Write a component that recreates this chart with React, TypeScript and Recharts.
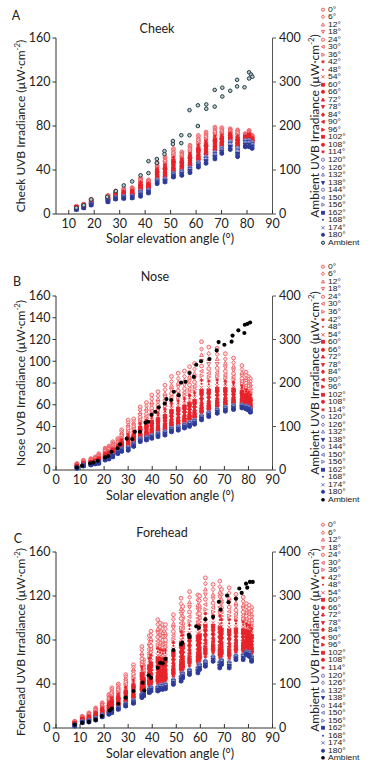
import React from 'react';
import { ScatterChart, Scatter, XAxis, YAxis } from 'recharts';

// sensor orientations (deg); 0..114 red, 120..180 blue
const orientations = [0, 6, 12, 18, 24, 30, 36, 42, 48, 54, 60, 66, 72, 78, 84, 90, 96, 102, 108, 114, 120, 126, 132, 138, 144, 150, 156, 162, 168, 174, 180];

const markerKinds = ['circle', 'diamond', 'triUp', 'triDown', 'circle', 'triLeft', 'triRight', 'star', 'dot', 'cross', 'square', 'circle', 'triUp', 'triDown', 'diamond', 'triLeft', 'triRight', 'square', 'circle', 'star', 'circle', 'diamond', 'triUp', 'triDown', 'circle', 'triLeft', 'triRight', 'square', 'dot', 'cross', 'circle'];
const markerOpen = [1, 1, 1, 1, 1, 1, 1, 0, 0, 1, 0, 0, 0, 0, 0, 0, 0, 0, 0, 0, 1, 1, 1, 0, 1, 1, 1, 0, 0, 1, 0];

// ---- Cheek ----
const cheekElev = [13, 15.9, 18.8, 25.4, 28.4, 31.6, 34.9, 38.2, 41.3, 44.7, 47.8, 51.1, 54.4, 57.6, 60.9, 63.9, 67.4, 70.1, 73.4, 76.3, 79.3, 80.8, 82];
const cheekValues = [
  [7, 7, 6.8, 6.8, 6.6, 6.5, 6.4, 6.3, 6.2, 6, 6, 5.9, 5.8, 5.6, 5.6, 5.5, 5.4, 5.2, 5.2, 5.1, 5, 4.9, 4.8, 4.7, 4.6, 4.5, 4.4, 4.3, 4.2, 4.1, 4],
  [9, 8.9, 8.7, 8.6, 8.5, 8.3, 8.2, 8.1, 7.9, 7.8, 7.7, 7.6, 7.4, 7.3, 7.2, 7.1, 7, 6.9, 6.8, 6.6, 6.5, 6.4, 6.3, 6.2, 6.1, 6, 5.9, 5.8, 5.7, 5.6, 5.5],
  [13.5, 13.3, 13.1, 12.9, 12.7, 12.5, 12.3, 12.1, 11.9, 11.7, 11.5, 11.3, 11.1, 10.9, 10.7, 10.5, 10.3, 10.1, 9.9, 9.7, 9.5, 9.4, 9.2, 9.1, 8.9, 8.8, 8.6, 8.5, 8.3, 8.2, 8],
  [17, 16.8, 16.6, 16.3, 16.1, 15.9, 15.7, 15.4, 15.2, 15, 14.8, 14.5, 14.3, 14.1, 13.9, 13.6, 13.4, 13.2, 13, 12.7, 12.5, 12.4, 12.2, 12.1, 11.9, 11.8, 11.6, 11.5, 11.3, 11.2, 11],
  [21, 20.7, 20.4, 20.1, 19.8, 19.5, 19.2, 18.9, 18.6, 18.3, 18, 17.7, 17.4, 17.1, 16.8, 16.5, 16.2, 15.9, 15.6, 15.3, 15, 14.9, 14.7, 14.6, 14.4, 14.3, 14.1, 14, 13.8, 13.7, 13.5],
  [23, 22.7, 22.3, 22, 21.6, 21.3, 20.9, 20.6, 20.2, 19.9, 19.5, 19.2, 18.8, 18.5, 18.1, 17.8, 17.4, 17.1, 16.7, 16.4, 16, 15.8, 15.6, 15.4, 15.2, 15, 14.8, 14.6, 14.4, 14.2, 14],
  [24, 23.6, 23.3, 22.9, 22.5, 22.1, 21.8, 21.4, 21, 20.6, 20.3, 19.9, 19.5, 19.1, 18.8, 18.4, 18, 17.6, 17.3, 16.9, 16.5, 16.3, 16.1, 15.9, 15.7, 15.5, 15.3, 15.1, 14.9, 14.7, 14.5],
  [33, 32.4, 31.8, 31.2, 30.6, 30, 29.4, 28.8, 28.2, 27.6, 27, 26.4, 25.8, 25.2, 24.6, 24, 23.4, 22.8, 22.2, 21.6, 21, 20.5, 20, 19.5, 19, 18.5, 18, 17.5, 17, 16.5, 16],
  [31, 30.6, 30.1, 29.7, 29.2, 28.8, 28.3, 27.9, 27.4, 27, 26.5, 26.1, 25.6, 25.2, 24.7, 24.3, 23.8, 23.4, 22.9, 22.5, 22, 21.7, 21.4, 21.1, 20.8, 20.5, 20.2, 19.9, 19.6, 19.3, 19],
  [47, 46.2, 45.4, 44.6, 43.8, 43, 42.2, 41.4, 40.6, 39.8, 39, 38.2, 37.4, 36.6, 35.8, 35, 34.2, 33.4, 32.6, 31.8, 31, 30.7, 30.3, 30, 29.6, 29.3, 28.9, 28.6, 28.2, 27.9, 27.5],
  [52, 51, 50, 49, 48, 47, 46, 45, 44, 43, 42, 41, 40, 39, 38, 37, 36, 35, 34, 33, 32, 31.7, 31.4, 31.1, 30.8, 30.5, 30.2, 29.9, 29.6, 29.3, 29],
  [59.5, 58.4, 57.3, 56.1, 55, 53.9, 52.8, 51.6, 50.5, 49.4, 48.3, 47.1, 46, 44.9, 43.8, 42.6, 41.5, 40.4, 39.3, 38.1, 37, 36.7, 36.3, 36, 35.6, 35.3, 34.9, 34.6, 34.2, 33.9, 33.5],
  [56.5, 55.6, 54.8, 53.9, 53, 52.1, 51.3, 50.4, 49.5, 48.6, 47.8, 46.9, 46, 45.1, 44.3, 43.4, 42.5, 41.6, 40.8, 39.9, 39, 38.6, 38.2, 37.8, 37.4, 37, 36.6, 36.2, 35.8, 35.4, 35],
  [62.5, 61.5, 60.5, 59.4, 58.4, 57.4, 56.4, 55.3, 54.3, 53.3, 52.3, 51.2, 50.2, 49.2, 48.2, 47.1, 46.1, 45.1, 44.1, 43, 42, 41.6, 41.1, 40.7, 40.2, 39.8, 39.3, 38.9, 38.4, 38, 37.5],
  [71.5, 70.3, 69.1, 67.8, 66.6, 65.4, 64.2, 62.9, 61.7, 60.5, 59.3, 58, 56.8, 55.6, 54.4, 53.1, 51.9, 50.7, 49.5, 48.2, 47, 46.6, 46.1, 45.7, 45.2, 44.8, 44.3, 43.9, 43.4, 43, 42.5],
  [74.5, 73.4, 72.3, 71.1, 70, 68.9, 67.8, 66.6, 65.5, 64.4, 63.3, 62.1, 61, 59.9, 58.8, 57.6, 56.5, 55.4, 54.3, 53.1, 52, 51.4, 50.8, 50.2, 49.6, 49, 48.4, 47.8, 47.2, 46.6, 46],
  [79, 77.9, 76.7, 75.6, 74.4, 73.3, 72.1, 71, 69.8, 68.7, 67.5, 66.4, 65.2, 64.1, 62.9, 61.8, 60.6, 59.5, 58.3, 57.2, 56, 55.4, 54.8, 54.2, 53.6, 53, 52.4, 51.8, 51.2, 50.6, 50],
  [78.5, 77.6, 76.7, 75.7, 74.8, 73.9, 73, 72, 71.1, 70.2, 69.3, 68.3, 67.4, 66.5, 65.6, 64.6, 63.7, 62.8, 61.9, 60.9, 60, 59.5, 59, 58.5, 58, 57.5, 57, 56.5, 56, 55.5, 55],
  [77.5, 76.9, 76.4, 75.8, 75.2, 74.6, 74.1, 73.5, 72.9, 72.3, 71.8, 71.2, 70.6, 70, 69.5, 68.9, 68.3, 67.7, 67.2, 66.6, 66, 65.3, 64.5, 63.8, 63, 62.3, 61.5, 60.8, 60, 59.3, 58.5],
  [76.5, 75.7, 74.9, 74.1, 73.2, 72.4, 71.6, 70.8, 69.9, 69.1, 68.3, 67.4, 66.6, 65.8, 65, 64.1, 63.3, 62.5, 61.7, 60.8, 60, 59.2, 58.4, 57.6, 56.8, 56, 55.2, 54.4, 53.6, 52.8, 52],
  [73, 72.7, 72.4, 72.1, 71.8, 71.5, 71.2, 70.9, 70.6, 70.3, 70, 69.7, 69.4, 69.1, 68.8, 68.5, 68.2, 67.9, 67.6, 67.3, 67, 66.4, 65.8, 65.2, 64.6, 64, 63.4, 62.8, 62.2, 61.6, 61],
  [76, 75.6, 75.1, 74.7, 74.2, 73.8, 73.3, 72.9, 72.4, 72, 71.5, 71.1, 70.6, 70.2, 69.7, 69.3, 68.8, 68.4, 67.9, 67.5, 67, 66.4, 65.8, 65.2, 64.6, 64, 63.4, 62.8, 62.2, 61.6, 61],
  [71.5, 71.2, 70.9, 70.5, 70.2, 69.9, 69.6, 69.2, 68.9, 68.6, 68.3, 67.9, 67.6, 67.3, 67, 66.6, 66.3, 66, 65.7, 65.3, 65, 64.5, 63.9, 63.4, 62.8, 62.3, 61.7, 61.2, 60.6, 60.1, 59.5],
];
const cheekAmbient = [[13, 14], [15.9, 20], [18.8, 33], [25.1, 39], [28.5, 52], [31.6, 65], [34.9, 74], [38.2, 88], [41.3, 93], [41.3, 120], [44.6, 125], [44.6, 116], [47.6, 143], [47.6, 136], [50.9, 166], [50.9, 159], [54.2, 161], [54.2, 179], [57.4, 179], [57.4, 236], [60.7, 200], [60.7, 247], [64, 249], [64, 239], [67.3, 244], [67.3, 282], [70.3, 267], [70.3, 287], [73.4, 280], [76.1, 305], [76.1, 290], [79, 288], [80.8, 308], [80.8, 322], [81.6, 317], [82.1, 312]];

// ---- Nose ----
const noseElev = [8.7, 11.4, 14.5, 16.3, 17.8, 20.4, 22, 23.6, 25.7, 27.3, 30, 32.3, 35, 37.6, 39.8, 42.4, 45.3, 48, 50.8, 53.4, 55.5, 57.6, 60.5, 63.5, 67, 70.4, 73.8, 77.3, 79, 80, 80.8];
const noseValues = [
  [6, 5.7, 5.4, 5.1, 4.8, 4.6, 4.4, 4.2, 4, 3.8, 3.7, 3.5, 3.4, 3.2, 3.1, 3, 2.9, 2.8, 2.7, 2.6, 2.5, 2.4, 2.3, 2.2, 2.1, 2, 1.9, 1.8, 1.7, 1.6, 1.5],
  [9, 8.6, 8.2, 7.8, 7.5, 7.2, 6.9, 6.7, 6.4, 6.2, 6, 5.8, 5.6, 5.4, 5.3, 5.1, 5, 4.9, 4.7, 4.6, 4.5, 4.4, 4.3, 4.2, 4.1, 4, 3.9, 3.8, 3.7, 3.6, 3.5],
  [10.5, 10, 9.6, 9.2, 8.9, 8.5, 8.2, 7.9, 7.7, 7.4, 7.2, 7, 6.8, 6.6, 6.4, 6.2, 6.1, 5.9, 5.8, 5.6, 5.5, 5.4, 5.3, 5.2, 5.1, 5, 4.9, 4.8, 4.7, 4.6, 4.5],
  [12, 11.5, 11, 10.6, 10.2, 9.8, 9.5, 9.1, 8.9, 8.6, 8.3, 8.1, 7.9, 7.7, 7.4, 7.3, 7.1, 6.9, 6.8, 6.6, 6.5, 6.4, 6.3, 6.2, 6.1, 6, 5.9, 5.8, 5.7, 5.6, 5.5],
  [15, 14.3, 13.7, 13.1, 12.5, 12, 11.6, 11.1, 10.7, 10.4, 10, 9.7, 9.4, 9.1, 8.8, 8.6, 8.3, 8.1, 7.9, 7.7, 7.5, 7.4, 7.2, 7.1, 6.9, 6.8, 6.6, 6.5, 6.3, 6.2, 6],
  [20, 19.1, 18.4, 17.7, 17, 16.4, 15.9, 15.3, 14.9, 14.4, 14, 13.6, 13.3, 12.9, 12.5, 12.3, 12, 11.7, 11.5, 11.2, 11, 10.8, 10.6, 10.4, 10.2, 10, 9.8, 9.6, 9.4, 9.2, 9],
  [22, 21, 20.2, 19.4, 18.7, 18, 17.4, 16.8, 16.3, 15.8, 15.3, 14.9, 14.5, 14.1, 13.7, 13.4, 13.1, 12.8, 12.5, 12.2, 12, 11.8, 11.6, 11.4, 11.2, 11, 10.8, 10.6, 10.4, 10.2, 10],
  [26, 24.8, 23.8, 22.9, 22, 21.2, 20.5, 19.8, 19.2, 18.6, 18, 17.5, 17, 16.5, 16, 15.7, 15.3, 15, 14.6, 14.2, 14, 13.8, 13.6, 13.4, 13.2, 13, 12.8, 12.6, 12.4, 12.2, 12],
  [29, 27.8, 26.8, 25.9, 25, 24.2, 23.5, 22.8, 22.2, 21.6, 21, 20.5, 20, 19.5, 19, 18.7, 18.3, 18, 17.6, 17.2, 17, 16.8, 16.6, 16.4, 16.2, 16, 15.8, 15.6, 15.4, 15.2, 15],
  [37, 35.3, 33.9, 32.5, 31.2, 30, 29, 27.9, 27, 26.2, 25.3, 24.6, 23.9, 23.2, 22.5, 22, 21.4, 20.9, 20.4, 19.9, 19.5, 19.3, 19, 18.8, 18.5, 18.3, 18, 17.8, 17.5, 17.3, 17],
  [46, 43.5, 41.5, 39.5, 37.8, 36, 34.5, 33, 31.8, 30.5, 29.3, 28.3, 27.3, 26.3, 25.3, 24.5, 23.8, 23, 22.3, 21.5, 21, 20.7, 20.4, 20.1, 19.8, 19.5, 19.2, 18.9, 18.6, 18.3, 18],
  [47, 44.8, 43, 41.2, 39.6, 38, 36.7, 35.3, 34.2, 33.1, 31.9, 31, 30.1, 29.2, 28.3, 27.7, 27, 26.3, 25.6, 25, 24.5, 24.2, 23.9, 23.6, 23.3, 23, 22.7, 22.4, 22.1, 21.8, 21.5],
  [58, 55.1, 52.8, 50.5, 48.4, 46.4, 44.7, 42.9, 41.5, 40, 38.6, 37.4, 36.3, 35.1, 33.9, 33.1, 32.2, 31.3, 30.5, 29.6, 29, 28.7, 28.4, 28.1, 27.8, 27.5, 27.2, 26.9, 26.6, 26.3, 26],
  [62, 58.9, 56.3, 53.8, 51.6, 49.4, 47.5, 45.6, 44, 42.5, 40.9, 39.6, 38.4, 37.1, 35.9, 34.9, 34, 33, 32.1, 31.1, 30.5, 30.2, 29.9, 29.6, 29.3, 29, 28.7, 28.4, 28.1, 27.8, 27.5],
  [69, 65.3, 62.3, 59.4, 56.8, 54.2, 52, 49.8, 47.9, 46.1, 44.2, 42.7, 41.3, 39.8, 38.3, 37.2, 36.1, 35, 33.9, 32.7, 32, 31.7, 31.4, 31.1, 30.8, 30.5, 30.2, 29.9, 29.6, 29.3, 29],
  [72, 68.2, 65.2, 62.1, 59.5, 56.8, 54.5, 52.2, 50.3, 48.4, 46.5, 45, 43.5, 42, 40.5, 39.3, 38.2, 37, 35.9, 34.8, 34, 33.7, 33.3, 33, 32.6, 32.3, 31.9, 31.6, 31.2, 30.9, 30.5],
  [78, 73.8, 70.4, 67, 64, 61, 58.5, 55.9, 53.8, 51.7, 49.5, 47.8, 46.1, 44.4, 42.7, 41.5, 40.2, 38.9, 37.6, 36.4, 35.5, 35.2, 34.8, 34.5, 34.1, 33.8, 33.4, 33.1, 32.7, 32.4, 32],
  [86, 81.3, 77.5, 73.7, 70.3, 67, 64.2, 61.3, 58.9, 56.6, 54.2, 52.3, 50.4, 48.5, 46.6, 45.2, 43.7, 42.3, 40.9, 39.5, 38.5, 38.2, 37.8, 37.5, 37.1, 36.8, 36.4, 36.1, 35.7, 35.4, 35],
  [89, 84.1, 80.2, 76.3, 72.8, 69.4, 66.5, 63.5, 61.1, 58.6, 56.2, 54.2, 52.3, 50.3, 48.3, 46.9, 45.4, 43.9, 42.5, 41, 40, 39.7, 39.3, 39, 38.6, 38.3, 37.9, 37.6, 37.2, 36.9, 36.5],
  [91, 86.1, 82.2, 78.3, 74.8, 71.4, 68.5, 65.5, 63.1, 60.6, 58.2, 56.2, 54.3, 52.3, 50.3, 48.9, 47.4, 45.9, 44.5, 43, 42, 41.7, 41.3, 41, 40.6, 40.3, 39.9, 39.6, 39.2, 38.9, 38.5],
  [95, 89.9, 85.8, 81.7, 78.2, 74.6, 71.5, 68.5, 65.9, 63.4, 60.8, 58.8, 56.8, 54.7, 52.7, 51.1, 49.6, 48.1, 46.6, 45, 44, 43.6, 43.2, 42.8, 42.4, 42, 41.6, 41.2, 40.8, 40.4, 40],
  [98, 92.8, 88.6, 84.5, 80.8, 77.2, 74.1, 71, 68.4, 65.8, 63.2, 61.1, 59, 56.9, 54.8, 53.3, 51.7, 50.2, 48.6, 47, 46, 45.6, 45.2, 44.8, 44.4, 44, 43.6, 43.2, 42.8, 42.4, 42],
  [118, 111.2, 105.8, 100.3, 95.6, 90.8, 86.7, 82.6, 79.2, 75.8, 72.4, 69.7, 67, 64.3, 61.6, 59.5, 57.5, 55.4, 53.4, 51.4, 50, 49.6, 49.2, 48.8, 48.4, 48, 47.6, 47.2, 46.8, 46.4, 46],
  [113, 107, 102.2, 97.4, 93.2, 89, 85.4, 81.8, 78.8, 75.8, 72.8, 70.4, 68, 65.6, 63.2, 61.4, 59.6, 57.8, 56, 54.2, 53, 52.6, 52.2, 51.8, 51.4, 51, 50.6, 50.2, 49.8, 49.4, 49],
  [112, 106.4, 101.9, 97.4, 93.5, 89.6, 86.2, 82.9, 80.1, 77.3, 74.5, 72.2, 70, 67.8, 65.5, 63.8, 62.2, 60.5, 58.8, 57.1, 56, 55.6, 55.2, 54.8, 54.4, 54, 53.6, 53.2, 52.8, 52.4, 52],
  [107, 102.1, 98.2, 94.3, 90.8, 87.4, 84.5, 81.5, 79.1, 76.6, 74.2, 72.2, 70.3, 68.3, 66.3, 64.9, 63.4, 61.9, 60.5, 59, 58, 57.6, 57.2, 56.8, 56.4, 56, 55.6, 55.2, 54.8, 54.4, 54],
  [103, 98.7, 95.2, 91.7, 88.6, 85.6, 83, 80.4, 78.2, 76, 73.9, 72.1, 70.4, 68.6, 66.9, 65.6, 64.3, 63, 61.7, 60.4, 59.5, 59.1, 58.7, 58.3, 57.9, 57.5, 57.1, 56.7, 56.3, 55.9, 55.5],
  [96, 92.4, 89.5, 86.6, 84.1, 81.6, 79.4, 77.3, 75.5, 73.7, 71.9, 70.4, 69, 67.6, 66.1, 65, 64, 62.9, 61.8, 60.7, 60, 59.7, 59.4, 59.1, 58.8, 58.5, 58.2, 57.9, 57.6, 57.3, 57],
  [90, 86.9, 84.4, 81.9, 79.8, 77.6, 75.7, 73.9, 72.3, 70.8, 69.2, 68, 66.8, 65.5, 64.3, 63.3, 62.4, 61.5, 60.6, 59.6, 59, 58.7, 58.4, 58.1, 57.8, 57.5, 57.2, 56.9, 56.6, 56.3, 56],
  [86, 83.2, 81, 78.7, 76.8, 74.8, 73.1, 71.4, 70, 68.6, 67.2, 66.1, 65, 63.9, 62.8, 61.9, 61.1, 60.2, 59.4, 58.6, 58, 57.7, 57.4, 57.1, 56.8, 56.5, 56.2, 55.9, 55.6, 55.3, 55],
  [84, 81.2, 79, 76.7, 74.8, 72.8, 71.1, 69.4, 68, 66.6, 65.2, 64.1, 63, 61.9, 60.8, 59.9, 59.1, 58.2, 57.4, 56.6, 56, 55.7, 55.4, 55.1, 54.8, 54.5, 54.2, 53.9, 53.6, 53.3, 53],
];
const noseAmbient = [[8.7, 6], [10.8, 10], [14.2, 15.5], [15.6, 17], [17.4, 21], [20.4, 29], [21.8, 32], [23.1, 42], [25.6, 50], [26.6, 59], [29.4, 72], [31.7, 71], [32.8, 88], [34.9, 88], [37.2, 109], [38.3, 111], [39.7, 127], [41.3, 134], [42.7, 144], [45.2, 153], [45.9, 163], [47.9, 161], [49, 180], [51, 172], [52, 201], [53.9, 203], [55.5, 223], [57.3, 214], [58.3, 242], [60.3, 250], [63.8, 255], [66.8, 275], [67.6, 294], [70, 288], [73, 295], [73.4, 309], [75.8, 321], [78.3, 315], [78.5, 334], [79.6, 336], [80.7, 339]];

// ---- Forehead ----
const foreheadElev = [7.8, 10.9, 13.7, 16.5, 19.2, 22, 23.2, 25.9, 29, 32.2, 35.7, 36.4, 38.8, 39.5, 42.3, 43.3, 44.4, 45.5, 48.8, 52, 52.7, 55.5, 59, 59.7, 62.1, 65.3, 68.1, 68.8, 72, 74.8, 77.8, 79.2, 80.3, 81.3];
const foreheadValues = [
  [6.2, 6, 5.8, 5.6, 5.4, 5.2, 5, 4.8, 4.7, 4.5, 4.3, 4.2, 4.1, 3.9, 3.8, 3.7, 3.5, 3.4, 3.3, 3.2, 3, 2.9, 2.7, 2.6, 2.4, 2.3, 2.2, 2, 1.9, 1.7, 1.6],
  [10.7, 10.4, 10, 9.8, 9.5, 9.2, 8.9, 8.7, 8.4, 8.2, 8, 7.7, 7.6, 7.4, 7.2, 7, 6.8, 6.6, 6.4, 6.2, 6, 5.9, 5.7, 5.6, 5.5, 5.4, 5.2, 5.1, 5, 4.8, 4.7],
  [13.8, 13.3, 12.8, 12.4, 12, 11.6, 11.2, 10.9, 10.5, 10.2, 9.9, 9.5, 9.2, 9, 8.7, 8.4, 8.2, 7.9, 7.6, 7.3, 7, 6.8, 6.7, 6.5, 6.3, 6.2, 6, 5.8, 5.6, 5.5, 5.3],
  [18.3, 17.6, 17, 16.4, 15.9, 15.3, 14.8, 14.3, 13.8, 13.4, 12.9, 12.4, 12.1, 11.7, 11.3, 11, 10.6, 10.2, 9.8, 9.5, 9, 8.8, 8.6, 8.4, 8.2, 8, 7.8, 7.6, 7.4, 7.2, 7],
  [23, 22.2, 21.5, 20.8, 20.1, 19.5, 18.8, 18.3, 17.7, 17.2, 16.6, 16.1, 15.6, 15.2, 14.8, 14.3, 13.9, 13.4, 13, 12.6, 12, 11.8, 11.6, 11.4, 11.2, 11, 10.8, 10.6, 10.4, 10.2, 10],
  [30.5, 29.4, 28.3, 27.3, 26.3, 25.4, 24.4, 23.6, 22.8, 22, 21.2, 20.4, 19.8, 19.1, 18.5, 17.9, 17.2, 16.6, 15.9, 15.3, 14.5, 14.3, 14.1, 13.8, 13.6, 13.4, 13.2, 13, 12.7, 12.5, 12.3],
  [36.5, 35.1, 33.6, 32.4, 31.2, 29.9, 28.7, 27.7, 26.7, 25.6, 24.6, 23.6, 22.8, 21.9, 21.1, 20.3, 19.5, 18.7, 17.8, 17, 16, 15.8, 15.6, 15.3, 15.1, 14.9, 14.7, 14.5, 14.2, 14, 13.8],
  [40, 38.5, 37.1, 35.8, 34.5, 33.3, 32, 31, 29.9, 28.9, 27.8, 26.8, 25.9, 25.1, 24.3, 23.4, 22.6, 21.7, 20.9, 20.1, 19, 18.8, 18.6, 18.3, 18.1, 17.9, 17.7, 17.5, 17.2, 17, 16.8],
  [48.5, 46.6, 44.8, 43.2, 41.6, 40, 38.4, 37.1, 35.8, 34.5, 33.1, 31.8, 30.7, 29.7, 28.6, 27.6, 26.5, 25.4, 24.4, 23.3, 22, 21.8, 21.6, 21.3, 21.1, 20.9, 20.7, 20.5, 20.2, 20, 19.8],
  [57.5, 55.2, 53, 51, 49.1, 47.1, 45.2, 43.5, 41.9, 40.3, 38.7, 37, 35.7, 34.4, 33.1, 31.8, 30.5, 29.2, 27.9, 26.6, 25, 24.7, 24.5, 24.2, 23.9, 23.7, 23.4, 23.1, 22.8, 22.6, 22.3],
  [74, 71, 68, 65.4, 62.8, 60.2, 57.7, 55.5, 53.4, 51.2, 49.1, 46.9, 45.2, 43.5, 41.8, 40, 38.3, 36.6, 34.9, 33.2, 31, 30.7, 30.3, 30, 29.6, 29.3, 28.9, 28.6, 28.2, 27.9, 27.5],
  [62, 59.9, 57.8, 56, 54.2, 52.4, 50.6, 49.1, 47.6, 46.1, 44.6, 43.1, 41.9, 40.7, 39.5, 38.3, 37.1, 35.9, 34.7, 33.5, 32, 31.7, 31.4, 31.1, 30.8, 30.5, 30.2, 29.9, 29.6, 29.3, 29],
  [84, 80.6, 77.2, 74.3, 71.4, 68.5, 65.6, 63.1, 60.7, 58.3, 55.9, 53.4, 51.5, 49.6, 47.6, 45.7, 43.7, 41.8, 39.9, 37.9, 35.5, 35.2, 34.8, 34.5, 34.1, 33.8, 33.4, 33.1, 32.7, 32.4, 32],
  [88, 84.4, 80.9, 77.8, 74.7, 71.7, 68.6, 66.1, 63.5, 61, 58.4, 55.9, 53.8, 51.8, 49.8, 47.7, 45.7, 43.6, 41.6, 39.6, 37, 36.7, 36.3, 36, 35.6, 35.3, 34.9, 34.6, 34.2, 33.9, 33.5],
  [98.5, 94.2, 90, 86.3, 82.6, 79, 75.3, 72.3, 69.2, 66.2, 63.1, 60.1, 57.6, 55.2, 52.8, 50.3, 47.9, 45.4, 43, 40.6, 37.5, 37.1, 36.7, 36.3, 35.9, 35.5, 35.1, 34.7, 34.3, 33.9, 33.5],
  [95.5, 91.5, 87.6, 84.2, 80.8, 77.4, 74, 71.2, 68.4, 65.6, 62.7, 59.9, 57.6, 55.4, 53.1, 50.9, 48.6, 46.3, 44.1, 41.8, 39, 38.6, 38.2, 37.8, 37.4, 37, 36.6, 36.2, 35.8, 35.4, 35],
  [94, 90.2, 86.3, 83, 79.7, 76.4, 73.1, 70.4, 67.6, 64.9, 62.1, 59.4, 57.2, 55, 52.8, 50.6, 48.4, 46.2, 44, 41.8, 39, 38.6, 38.2, 37.8, 37.4, 37, 36.6, 36.2, 35.8, 35.4, 35],
  [94, 90.2, 86.4, 83.2, 80, 76.7, 73.5, 70.8, 68.1, 65.4, 62.7, 60, 57.8, 55.7, 53.5, 51.3, 49.2, 47, 44.9, 42.7, 40, 39.6, 39.1, 38.7, 38.2, 37.8, 37.3, 36.9, 36.4, 36, 35.5],
  [103, 98.9, 94.7, 91.2, 87.7, 84.1, 80.6, 77.6, 74.7, 71.7, 68.8, 65.8, 63.5, 61.1, 58.8, 56.4, 54, 51.7, 49.3, 47, 44, 43.6, 43.1, 42.7, 42.2, 41.8, 41.3, 40.9, 40.4, 40, 39.5],
  [118, 113, 108.1, 103.8, 99.5, 95.3, 91, 87.5, 83.9, 80.4, 76.8, 73.3, 70.4, 67.6, 64.8, 61.9, 59.1, 56.2, 53.4, 50.6, 47, 46.6, 46.1, 45.7, 45.2, 44.8, 44.3, 43.9, 43.4, 43, 42.5],
  [110.5, 106.3, 102, 98.4, 94.8, 91.1, 87.5, 84.5, 81.5, 78.4, 75.4, 72.4, 70, 67.5, 65.1, 62.7, 60.3, 57.9, 55.4, 53, 50, 49.6, 49.1, 48.7, 48.2, 47.8, 47.3, 46.9, 46.4, 46, 45.5],
  [124, 119, 114.1, 109.8, 105.5, 101.3, 97, 93.5, 89.9, 86.4, 82.8, 79.3, 76.4, 73.6, 70.8, 67.9, 65.1, 62.2, 59.4, 56.6, 53, 52.6, 52.1, 51.7, 51.2, 50.8, 50.3, 49.9, 49.4, 49, 48.5],
  [121, 116.4, 111.8, 107.8, 103.8, 99.9, 95.9, 92.6, 89.3, 86, 82.7, 79.4, 76.8, 74.1, 71.5, 68.9, 66.2, 63.6, 60.9, 58.3, 55, 54.5, 54, 53.5, 53, 52.5, 52, 51.5, 51, 50.5, 50],
  [120, 115.7, 111.3, 107.6, 103.9, 100.2, 96.4, 93.3, 90.2, 87.1, 84, 81, 78.5, 76, 73.5, 71, 68.5, 66.1, 63.6, 61.1, 58, 57.5, 57, 56.5, 56, 55.5, 55, 54.5, 54, 53.5, 53],
  [136.5, 131.2, 125.9, 121.4, 116.9, 112.3, 107.8, 104, 100.3, 96.5, 92.7, 88.9, 85.9, 82.9, 79.9, 76.9, 73.8, 70.8, 67.8, 64.8, 61, 60.5, 60, 59.5, 59, 58.5, 58, 57.5, 57, 56.5, 56],
  [130.5, 125.9, 121.3, 117.4, 113.5, 109.5, 105.6, 102.3, 99.1, 95.8, 92.5, 89.2, 86.6, 84, 81.4, 78.8, 76.1, 73.5, 70.9, 68.3, 65, 64.6, 64.1, 63.7, 63.2, 62.8, 62.3, 61.9, 61.4, 61, 60.5],
  [133.5, 128.4, 123.2, 118.8, 114.4, 110, 105.6, 101.9, 98.2, 94.5, 90.9, 87.2, 84.3, 81.3, 78.4, 75.4, 72.5, 69.6, 66.6, 63.7, 60, 59.5, 58.9, 58.4, 57.8, 57.3, 56.7, 56.2, 55.6, 55.1, 54.5],
  [126, 121.5, 117, 113.2, 109.4, 105.5, 101.7, 98.5, 95.3, 92.1, 88.9, 85.7, 83.1, 80.6, 78, 75.4, 72.9, 70.3, 67.8, 65.2, 62, 61.6, 61.1, 60.7, 60.2, 59.8, 59.3, 58.9, 58.4, 58, 57.5],
  [127.5, 122.8, 118.1, 114, 110, 105.9, 101.9, 98.5, 95.1, 91.7, 88.4, 85, 82.3, 79.6, 76.9, 74.2, 71.5, 68.8, 66.1, 63.4, 60, 59.5, 58.9, 58.4, 57.8, 57.3, 56.7, 56.2, 55.6, 55.1, 54.5],
  [121.5, 117.6, 113.7, 110.4, 107.1, 103.7, 100.4, 97.6, 94.9, 92.1, 89.3, 86.5, 84.3, 82.1, 79.9, 77.7, 75.4, 73.2, 71, 68.8, 66, 65.6, 65.2, 64.8, 64.4, 64, 63.6, 63.2, 62.8, 62.4, 62],
  [119, 115.3, 111.7, 108.5, 105.4, 102.2, 99.1, 96.4, 93.8, 91.2, 88.6, 85.9, 83.8, 81.7, 79.6, 77.5, 75.4, 73.3, 71.2, 69.1, 66.5, 66.1, 65.6, 65.2, 64.7, 64.3, 63.8, 63.4, 62.9, 62.5, 62],
  [113, 110, 106.9, 104.3, 101.7, 99.1, 96.5, 94.3, 92.1, 89.9, 87.8, 85.6, 83.9, 82.1, 80.4, 78.6, 76.9, 75.2, 73.4, 71.7, 69.5, 69.2, 68.9, 68.6, 68.3, 68, 67.7, 67.4, 67.1, 66.8, 66.5],
  [111.5, 108.5, 105.6, 103, 100.5, 97.9, 95.4, 93.2, 91.1, 89, 86.9, 84.7, 83, 81.3, 79.6, 77.9, 76.2, 74.5, 72.8, 71.1, 69, 68.6, 68.2, 67.8, 67.4, 67, 66.6, 66.2, 65.8, 65.4, 65],
  [109.5, 106.4, 103.3, 100.6, 97.9, 95.3, 92.6, 90.4, 88.1, 85.9, 83.7, 81.5, 79.7, 77.9, 76.1, 74.3, 72.6, 70.8, 69, 67.2, 65, 64.6, 64.1, 63.7, 63.2, 62.8, 62.3, 61.9, 61.4, 61, 60.5],
];
const foreheadAmbient = [[7.8, 8], [10.9, 12], [13.7, 14], [16.5, 19], [19, 27], [22.3, 40], [23.2, 44], [25.9, 55], [29, 69], [32.2, 84], [36, 103], [36.7, 85], [38.5, 120], [39.5, 114], [42.3, 137], [43.3, 148], [44.4, 147], [45.5, 157], [48.8, 177], [52, 190], [52.5, 194], [55.2, 212], [55.5, 207], [58.3, 231], [59.4, 228], [62.1, 247], [65.3, 252], [67.7, 287], [68.4, 269], [71.1, 301], [71.7, 286], [74.8, 294], [76.2, 317], [77.2, 307], [79, 328], [79.5, 319], [80.6, 332], [81.8, 332]];

const FONT = 'Lato, "Open Sans", sans-serif';
const RED = '#e8232b';
const RED_LIGHT = '#ee5c62';
const BLUE = '#2d3a97';
const BLUE_LIGHT = '#6676c0';

function Marker({ cx, cy, kind, open, color, s = 1.9 }: any) {
  if (cx == null || cy == null) return null;
  const fill = open ? '#fbe3e4' : color;
  const sw = 0.9;
  switch (kind) {
    case 'square':
      return <rect x={cx - s * 0.9} y={cy - s * 0.9} width={s * 1.8} height={s * 1.8} fill={fill} stroke={color} strokeWidth={sw} />;
    case 'diamond':
      return <polygon points={`${cx},${cy - s * 1.2} ${cx + s},${cy} ${cx},${cy + s * 1.2} ${cx - s},${cy}`} fill={fill} stroke={color} strokeWidth={sw} />;
    case 'triUp':
      return <polygon points={`${cx},${cy - s * 1.1} ${cx + s},${cy + s * 0.8} ${cx - s},${cy + s * 0.8}`} fill={fill} stroke={color} strokeWidth={sw} />;
    case 'triDown':
      return <polygon points={`${cx},${cy + s * 1.1} ${cx + s},${cy - s * 0.8} ${cx - s},${cy - s * 0.8}`} fill={fill} stroke={color} strokeWidth={sw} />;
    case 'triLeft':
      return <polygon points={`${cx - s * 1.1},${cy} ${cx + s * 0.8},${cy - s} ${cx + s * 0.8},${cy + s}`} fill={fill} stroke={color} strokeWidth={sw} />;
    case 'triRight':
      return <polygon points={`${cx + s * 1.1},${cy} ${cx - s * 0.8},${cy - s} ${cx - s * 0.8},${cy + s}`} fill={fill} stroke={color} strokeWidth={sw} />;
    case 'dot':
      return <circle cx={cx} cy={cy} r={s * 0.6} fill={color} />;
    case 'cross':
      return <path d={`M${cx - s},${cy - s}L${cx + s},${cy + s}M${cx + s},${cy - s}L${cx - s},${cy + s}`} stroke={color} strokeWidth={1} />;
    case 'star':
      return <path d={`M${cx - s},${cy}L${cx + s},${cy}M${cx},${cy - s}L${cx},${cy + s}M${cx - s * 0.7},${cy - s * 0.7}L${cx + s * 0.7},${cy + s * 0.7}M${cx + s * 0.7},${cy - s * 0.7}L${cx - s * 0.7},${cy + s * 0.7}`} stroke={color} strokeWidth={1} />;
    default:
      return <circle cx={cx} cy={cy} r={s} fill={fill} stroke={color} strokeWidth={sw} />;
  }
}

function seriesColor(i: number) {
  const blue = orientations[i] >= 120;
  if (markerOpen[i]) return blue ? BLUE_LIGHT : RED_LIGHT;
  return blue ? BLUE : RED;
}

function AmbientMarker({ cx, cy, kind, s = 1.8 }: any) {
  if (cx == null || cy == null) return null;
  if (kind === 'open') return <circle cx={cx} cy={cy} r={s} fill="#b9cccc" stroke="#203c44" strokeWidth={1} />;
  return <circle cx={cx} cy={cy} r={s * 1.15} fill="#000" />;
}

function XTick({ x, y, payload }: any) {
  return (
    <g>
      <line x1={x} x2={x} y1={y - 4} y2={y} stroke="#333" />
      <text x={x} y={y + 14} textAnchor="middle" fontSize={12.5} fill="#222">{payload.value}</text>
    </g>
  );
}

function Panel({ top, height, xDomain, xTicks, yTicks, elev, rows, ambient, ambientKind }: any) {
  return (
    <div style={{ position: 'absolute', left: 0, top }}>
      <ScatterChart width={370} height={height} margin={{ top: 38, right: 67.5, bottom: 0, left: 26 }}>
        <XAxis
          type="number"
          dataKey="x"
          domain={xDomain}
          ticks={xTicks}
          interval={0}
          height={36}
          tickSize={0}
          tickMargin={0}
          tickLine={false}
          stroke="#333"
          tick={(p: any) => <XTick {...p} />}
        />
        <YAxis
          yAxisId="l"
          type="number"
          dataKey="y"
          domain={[0, 160]}
          ticks={yTicks}
          interval={0}
          width={30}
          tickSize={3.5}
          tickMargin={2}
          stroke="#333"
          tick={{ fontSize: 12.5, fill: '#222' }}
        />
        <YAxis
          yAxisId="r"
          orientation="right"
          type="number"
          dataKey="y"
          domain={[0, 400]}
          ticks={[0, 100, 200, 300, 400]}
          interval={0}
          width={30}
          tickSize={3.5}
          tickMargin={3}
          stroke="#555"
          tick={{ fontSize: 12.5, fill: '#222' }}
        />
        {orientations.map((a, i) => (
          <Scatter
            key={a}
            yAxisId="l"
            name={`${a}°`}
            data={elev.map((x: number, c: number) => ({ x, y: rows[c][i] }))}
            isAnimationActive={false}
            shape={(p: any) => <Marker cx={p.cx} cy={p.cy} kind={markerKinds[i]} open={markerOpen[i]} color={seriesColor(i)} />}
          />
        ))}
        <Scatter
          yAxisId="r"
          name="Ambient"
          data={ambient.map(([x, y]: number[]) => ({ x, y }))}
          isAnimationActive={false}
          shape={(p: any) => <AmbientMarker cx={p.cx} cy={p.cy} kind={ambientKind} />}
        />
      </ScatterChart>
    </div>
  );
}

// legend text kept short in height so the packed rows do not collide; widened with scaleX
function LegendBlock({ top, ambientKind }: any) {
  const rowH = 7.52;
  const row = { height: rowH, display: 'flex', alignItems: 'center', color: '#222', whiteSpace: 'nowrap' as const, overflow: 'visible' };
  const txt = {
    display: 'inline-block',
    fontFamily: '"Liberation Sans", Arial, sans-serif',
    fontSize: 6.6,
    lineHeight: `${rowH}px`,
    height: rowH,
    marginLeft: 0.5,
    transform: 'scaleX(1.3)',
    transformOrigin: 'left center',
  };
  return (
    <div style={{ position: 'absolute', left: 319, top }}>
      {orientations.map((a, i) => (
        <div key={a} style={row}>
          <svg width={8} height={rowH} style={{ overflow: 'visible' }}>
            <Marker cx={4} cy={rowH / 2} kind={markerKinds[i]} open={markerOpen[i]} color={seriesColor(i)} s={1.6} />
          </svg>
          <span style={txt}>{a}°</span>
        </div>
      ))}
      <div style={row}>
        <svg width={8} height={rowH} style={{ overflow: 'visible' }}>
          <AmbientMarker cx={4} cy={rowH / 2} kind={ambientKind} s={1.6} />
        </svg>
        <span style={txt}>Ambient</span>
      </div>
    </div>
  );
}

function Label({ x, y, rotate, size = 12.5, children }: any) {
  return (
    <div
      style={{
        position: 'absolute',
        left: x,
        top: y,
        transform: `translate(-50%, -50%)${rotate ? ' rotate(-90deg)' : ''}`,
        fontSize: size,
        whiteSpace: 'nowrap',
        color: '#222',
        lineHeight: 1,
      }}
    >
      {children}
    </div>
  );
}

const unit = (
  <>
    (µW·cm<sup style={{ fontSize: '0.65em' }}>-2</sup>)
  </>
);

export default function App() {
  return (
    <div style={{ position: 'absolute', left: 0, top: 0, width: 370, height: 766, background: '#fff', fontFamily: FONT, overflow: 'hidden' }}>
      <Panel top={0} height={250} xDomain={[5, 90]} xTicks={[10, 20, 30, 40, 50, 60, 70, 80, 90]} yTicks={[0, 40, 80, 120, 160]} elev={cheekElev} rows={cheekValues} ambient={cheekAmbient} ambientKind="open" />
      <Panel top={258} height={248} xDomain={[0, 90]} xTicks={[0, 10, 20, 30, 40, 50, 60, 70, 80, 90]} yTicks={[0, 20, 40, 60, 80, 100, 120, 140, 160]} elev={noseElev} rows={noseValues} ambient={noseAmbient} ambientKind="filled" />
      <Panel top={514} height={250} xDomain={[0, 90]} xTicks={[0, 10, 20, 30, 40, 50, 60, 70, 80, 90]} yTicks={[0, 40, 80, 120, 160]} elev={foreheadElev} rows={foreheadValues} ambient={foreheadAmbient} ambientKind="filled" />

      <LegendBlock top={5.7} ambientKind="open" />
      <LegendBlock top={262.9} ambientKind="filled" />
      <LegendBlock top={521.2} ambientKind="filled" />

      <Label x={16} y={16}>A</Label>
      <Label x={157} y={29}>Cheek</Label>
      <Label x={20} y={126} rotate size={12}>Cheek UVB Irradiance {unit}</Label>
      <Label x={314} y={126} rotate size={12}>Ambient UVB Irradiance {unit}</Label>
      <Label x={170} y={239}>Solar elevation angle (°)</Label>

      <Label x={17} y={282}>B</Label>
      <Label x={155} y={277}>Nose</Label>
      <Label x={20} y={383} rotate size={12}>Nose UVB Irradiance {unit}</Label>
      <Label x={314} y={383} rotate size={12}>Ambient UVB Irradiance {unit}</Label>
      <Label x={170} y={496}>Solar elevation angle (°)</Label>

      <Label x={18} y={539}>C</Label>
      <Label x={162} y={533}>Forehead</Label>
      <Label x={20} y={642} rotate size={12}>Forehead UVB Irradiance {unit}</Label>
      <Label x={314} y={640} rotate size={12}>Ambient UVB Irradiance {unit}</Label>
      <Label x={170} y={753.5}>Solar elevation angle (°)</Label>
    </div>
  );
}
